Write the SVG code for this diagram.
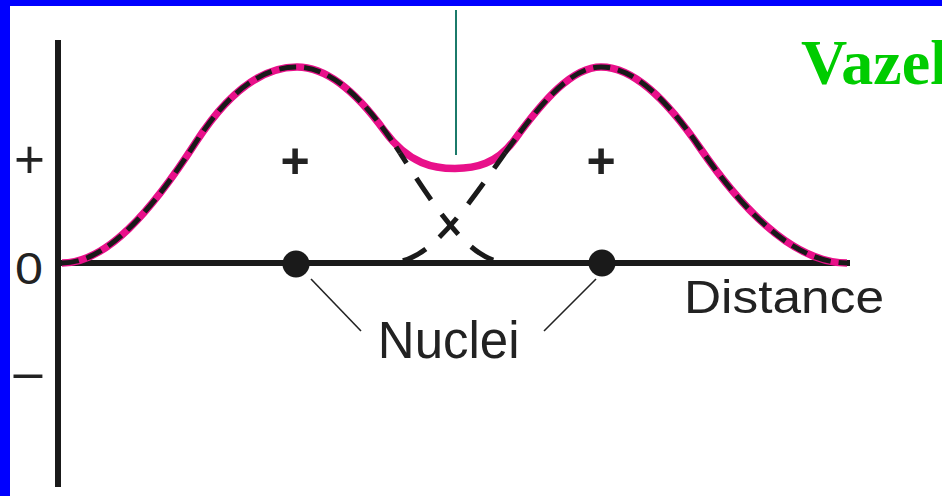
<svg xmlns="http://www.w3.org/2000/svg" width="942" height="496" viewBox="0 0 942 496">
<style>
.sans{font-family:"Liberation Sans",Arial,sans-serif;fill:#222}
.axis{stroke:#1a1a1a;stroke-width:6;fill:none}
.pink{stroke:#e8108a;stroke-width:7.5;fill:none}
.dashO{stroke:#1a1a1a;stroke-width:5;fill:none;stroke-dasharray:17 8}
.dashI{stroke:#1a1a1a;stroke-width:5;fill:none;stroke-dasharray:26 18}
.lead{stroke:#222;stroke-width:1.6;fill:none}
</style>
<rect x="0" y="0" width="942" height="496" fill="#fff"/>
<rect x="0" y="0" width="942" height="6" fill="#0000ff"/>
<rect x="0" y="0" width="10" height="496" fill="#0000ff"/>

<g id="axes">
<line class="axis" x1="58" y1="40" x2="58" y2="487"/>
<line class="axis" x1="55" y1="263" x2="850" y2="263"/>
</g>

<g id="midline">
<line x1="456" y1="10" x2="456" y2="155" stroke="#1b7a6a" stroke-width="2"/>
</g>

<g id="curves">
<path class="pink" d="M62,263 C106.7,263 151.3,211.3 196,142 C229.7,89.8 263.3,67 297,67 C326.16,67 355.19,90.65 384.41,130.85 C409.4,164.9 435,168.5 455,168.5 C475,168.5 496.6,164.3 514.6,139.71 C543.4,100.37 572.2,67 601,67 C634,67 667,100.1 700,148 C749,219 798,263 847,263"/>
<path class="dashO" d="M62,263 C106.7,263 151.3,211.3 196,142 C229.7,89.8 263.3,67 297,67 C331.3,67 365.7,99.8 400,153"/>
<path class="dashI" stroke-dashoffset="14" d="M400,153 C435,207.3 470,262 505,262"/>
<path class="dashI" stroke-dashoffset="34" d="M393,262 C430.3,262 467.7,205.3 505,153"/>
<path class="dashO" d="M505,153 C537,108.2 569,67 601,67 C634,67 667,100.1 700,148 C749,219 798,263 847,263"/>
</g>

<g id="nucleus-left"><circle cx="296" cy="264" r="13.5" fill="#1a1a1a"/></g>
<g id="nucleus-right"><circle cx="602" cy="263" r="13.5" fill="#1a1a1a"/></g>

<g id="connectors">
<line class="lead" x1="311" y1="279" x2="361" y2="331"/>
<line class="lead" x1="596" y1="279" x2="544" y2="331"/>
</g>

<g id="label-plus-axis"><text class="sans" x="29.5" y="178" font-size="53" text-anchor="middle">+</text></g>
<g id="label-zero"><text class="sans" x="15" y="283.5" font-size="45" textLength="28" lengthAdjust="spacingAndGlyphs">0</text></g>
<g id="label-minus"><text class="sans" x="28" y="389" font-size="52" text-anchor="middle">–</text></g>
<g id="label-plus-left"><text class="sans" x="295" y="177.5" font-size="50" font-weight="bold" text-anchor="middle">+</text></g>
<g id="label-plus-right"><text class="sans" x="601" y="177.5" font-size="50" font-weight="bold" text-anchor="middle">+</text></g>
<g id="label-nuclei"><text class="sans" x="377.8" y="358.3" font-size="51">Nuclei</text></g>
<g id="label-distance"><text class="sans" x="684" y="313.3" font-size="46" textLength="200" lengthAdjust="spacingAndGlyphs">Distance</text></g>
<g id="title"><text x="801" y="84" font-family="'Liberation Serif','Times New Roman',serif" font-weight="bold" font-size="64" fill="#00cc00">Vazel</text></g>
</svg>
